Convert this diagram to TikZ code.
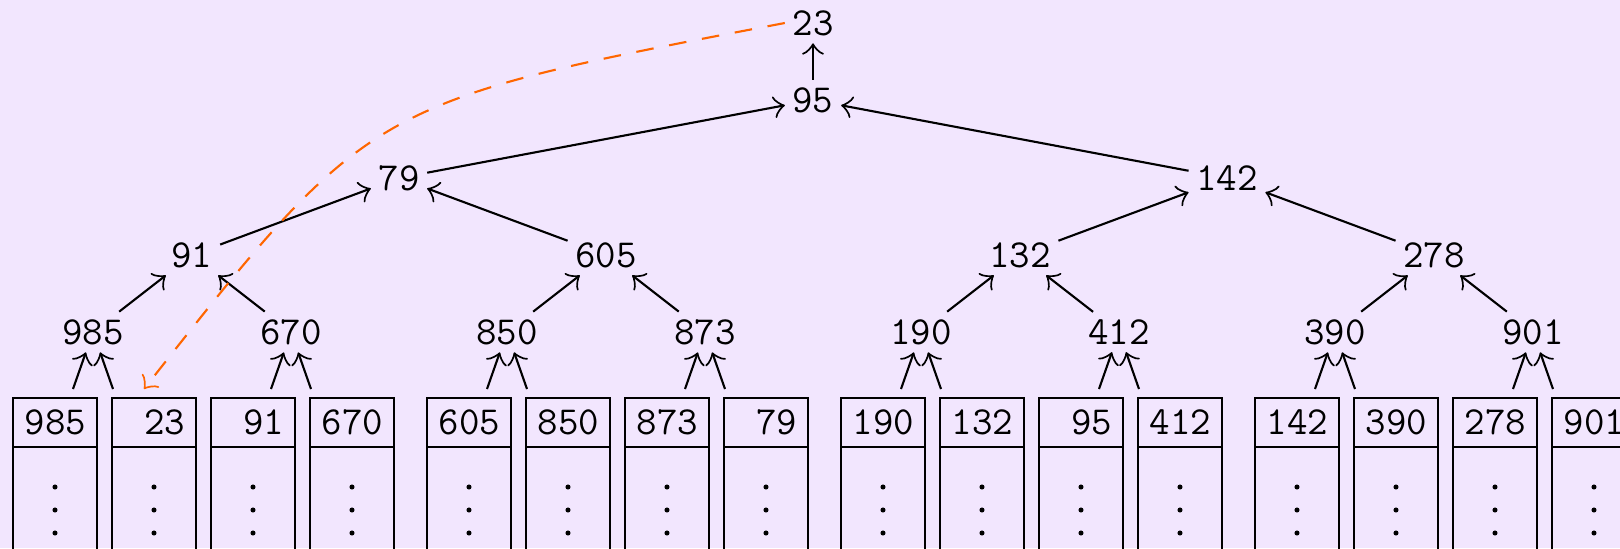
\documentclass[tikz,border=0pt]{standalone}
\usepackage{fontspec}
\usepackage{xcolor}
\usepackage{tikz}
\usetikzlibrary{calc, arrows.meta}
\definecolor{tt-bg}{RGB}{242,230,254}
\definecolor{tt-orange}{RGB}{255,102,0}
\tikzset{
  tt@key/.style={font=\fontsize{11.3}{13}\selectfont\ttfamily, inner sep=2pt},
  tt@run/.style={
    draw, line width=0.8pt, outer sep=0pt,
    text width=0.62cm, inner xsep=0.11cm, inner ysep=0pt,
    minimum height=0.49cm, align=right,
    font=\fontsize{11.3}{13}\selectfont\ttfamily
  },
  tt@arr/.style={-{Classical TikZ Rightarrow[length=3.2pt, width=6.2pt]}, line width=0.6pt},
  tt@ret/.style={-{Classical TikZ Rightarrow[length=3.2pt, width=6.2pt]}, line width=0.6pt,
    tt-orange, dash pattern=on 5pt off 4.5pt},
}

\begin{document}
\begin{tikzpicture}[x=0.01cm, y=-0.01cm]
  \useasboundingbox (0,0) rectangle (1620,548);
  \clip (0,0) rectangle (1620,548);
  \fill[tt-bg] (0,0) rectangle (1620,548);
  % runs
  \node[tt@run] (r0)  at (55,422.5)   {985};
  \node[tt@run] (r1)  at (154,422.5)  {23};
  \node[tt@run] (r2)  at (253,422.5)  {91};
  \node[tt@run] (r3)  at (352,422.5)  {670};
  \node[tt@run] (r4)  at (469,422.5)  {605};
  \node[tt@run] (r5)  at (568,422.5)  {850};
  \node[tt@run] (r6)  at (667,422.5)  {873};
  \node[tt@run] (r7)  at (766,422.5)  {79};
  \node[tt@run] (r8)  at (883,422.5)  {190};
  \node[tt@run] (r9)  at (982,422.5)  {132};
  \node[tt@run] (r10) at (1081,422.5) {95};
  \node[tt@run] (r11) at (1180,422.5) {412};
  \node[tt@run] (r12) at (1297,422.5) {142};
  \node[tt@run] (r13) at (1396,422.5) {390};
  \node[tt@run] (r14) at (1495,422.5) {278};
  \node[tt@run] (r15) at (1594,422.5) {901};
  \foreach \j in {0,...,15} {
    \draw[line width=0.8pt] (r\j.south west) -- ++(0,120) (r\j.south east) -- ++(0,120);
    \foreach \d in {40,63,86} \fill ($(r\j.south)+(0,\d)$) circle (0.72pt);
  }
  % tree
  \node[tt@key] (w)   at (813,23)  {23};
  \node[tt@key] (n1)  at (813,100) {95};
  \node[tt@key] (n2)  at (399,178) {79};
  \node[tt@key] (n3)  at (1227,178) {142};
  \node[tt@key] (n4)  at (192,255) {91};
  \node[tt@key] (n5)  at (606,255) {605};
  \node[tt@key] (n6)  at (1020,255) {132};
  \node[tt@key] (n7)  at (1434,255) {278};
  \node[tt@key] (n8)  at (93,332)   {985};
  \node[tt@key] (n9)  at (291,332)  {670};
  \node[tt@key] (n10) at (507,332)  {850};
  \node[tt@key] (n11) at (705,332)  {873};
  \node[tt@key] (n12) at (921,332)  {190};
  \node[tt@key] (n13) at (1119,332) {412};
  \node[tt@key] (n14) at (1335,332) {390};
  \node[tt@key] (n15) at (1533,332) {901};
  \draw[tt@arr] (n1) -- (w);
  \draw[tt@arr] (n2) -- (n1);
  \draw[tt@arr] (n3) -- (n1);
  \draw[tt@arr] (n4) -- (n2);
  \draw[tt@arr] (n5) -- (n2);
  \draw[tt@arr] (n6) -- (n3);
  \draw[tt@arr] (n7) -- (n3);
  \draw[tt@arr] (n8) -- (n4);
  \draw[tt@arr] (n9) -- (n4);
  \draw[tt@arr] (n10) -- (n5);
  \draw[tt@arr] (n11) -- (n5);
  \draw[tt@arr] (n12) -- (n6);
  \draw[tt@arr] (n13) -- (n6);
  \draw[tt@arr] (n14) -- (n7);
  \draw[tt@arr] (n15) -- (n7);
  \foreach \k in {8,...,15} {
    \coordinate (sl\k) at ($(n\k)+(-20,57)$);
    \coordinate (sr\k) at ($(n\k)+(20,57)$);
    \draw[tt@arr] (sl\k) -- (n\k);
    \draw[tt@arr] (sr\k) -- (n\k);
  }
  % winner goes back to its run
  \coordinate (dst) at ($(r1.north)+(-10,-9)$);
  \draw[tt@ret] (w.west) .. controls (370,102) .. (dst);
\end{tikzpicture}
\end{document}
